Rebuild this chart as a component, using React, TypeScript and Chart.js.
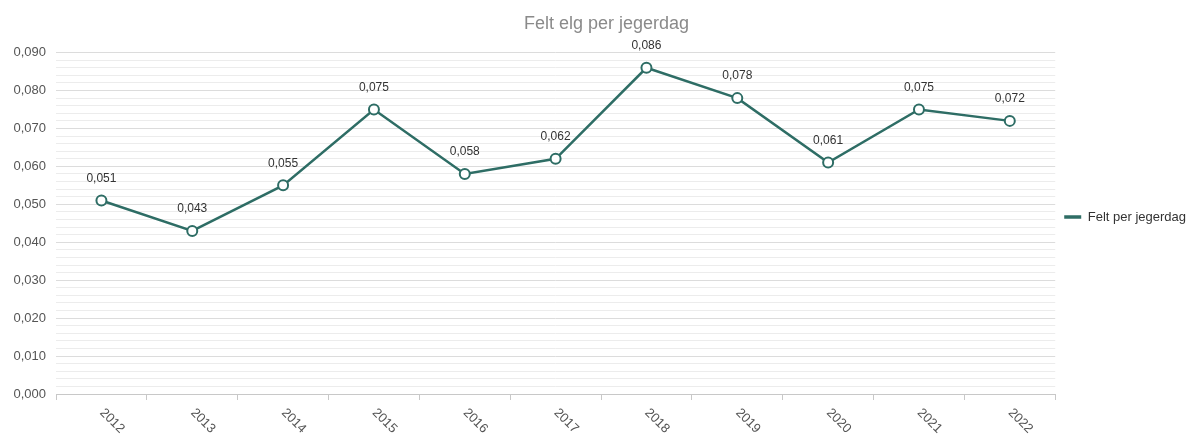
import React, { useEffect, useRef } from "react";
import { Chart, registerables } from "chart.js";

Chart.register(...registerables);

const titleText = "Felt elg per jegerdag";
const seriesName = "Felt per jegerdag";
const years = ["2012", "2013", "2014", "2015", "2016", "2017", "2018", "2019", "2020", "2021", "2022"];
const values = [0.051, 0.043, 0.055, 0.075, 0.058, 0.062, 0.086, 0.078, 0.061, 0.075, 0.072];
const yMin = 0;
const yMax = 0.09;
const minorStep = 0.002;
const majorStep = 0.01;

const lineColor = "#2e6d65";
const fontFamily = "'Liberation Sans', Arial, sans-serif";

const fmt = (v: number) => v.toFixed(3).replace(".", ",");
const isMajor = (v: number) => Math.abs(v / majorStep - Math.round(v / majorStep)) < 1e-6;

const labelPlugin = {
  id: "customLabels",
  afterLayout(chart: any) {
    if (chart.legend) {
      chart.legend.left += 5;
      chart.legend.right += 5;
    }
    if (chart.titleBlock) {
      chart.titleBlock.left += 7;
      chart.titleBlock.right += 7;
    }
  },
  afterDatasetsDraw(chart: any) {
    const ctx = chart.ctx;
    const meta = chart.getDatasetMeta(0);
    ctx.save();
    ctx.font = `12px ${fontFamily}`;
    ctx.fillStyle = "#333";
    ctx.textAlign = "center";
    ctx.textBaseline = "middle";
    meta.data.forEach((pt: any, i: number) => {
      ctx.fillText(fmt(values[i]), pt.x, pt.y - 22);
    });
    // rotated x labels
    const xs = chart.scales.x;
    ctx.font = `13px ${fontFamily}`;
    ctx.fillStyle = "#555";
    ctx.textAlign = "left";
    ctx.textBaseline = "top";
    years.forEach((y, i) => {
      const x = xs.getPixelForValue(i);
      ctx.save();
      ctx.translate(x + 5, xs.top + 12);
      ctx.rotate(Math.PI / 4);
      ctx.fillText(y, 0, 0);
      ctx.restore();
    });
    ctx.restore();
  },
};

export default function App() {
  const ref = useRef<HTMLCanvasElement | null>(null);
  useEffect(() => {
    if (!ref.current) return;
    const chart = new Chart(ref.current, {
      type: "line",
      data: {
        labels: years,
        datasets: [
          {
            label: seriesName,
            data: values,
            borderColor: lineColor,
            backgroundColor: "#ffffff",
            borderWidth: 2.5,
            pointRadius: 5,
            pointBorderWidth: 2,
            pointBackgroundColor: "#ffffff",
            pointBorderColor: lineColor,
            tension: 0,
          },
        ],
      },
      plugins: [labelPlugin],
      options: {
        animation: false,
        responsive: false,
        layout: { padding: { left: 8, right: 0, top: 0, bottom: 0 } },
        plugins: {
          title: {
            display: true,
            text: titleText,
            color: "#8a8a8a",
            font: { family: fontFamily, size: 18, weight: "normal" },
            padding: { top: 13, bottom: 18 },
          },
          legend: {
            position: "right",
            labels: {
              usePointStyle: true,
              pointStyle: "line",
              pointStyleWidth: 17,
              boxWidth: 17,
              boxHeight: 12,
              padding: 4,
              color: "#333",
              font: { family: fontFamily, size: 13 },
              generateLabels: (chart: any) => [
                {
                  text: seriesName,
                  fillStyle: lineColor,
                  strokeStyle: lineColor,
                  lineWidth: 3.5,
                  pointStyle: "line",
                  datasetIndex: 0,
                  hidden: false,
                  fontColor: "#333",
                },
              ],
            },
          },
          tooltip: { enabled: false },
        },
        scales: {
          x: {
            type: "category",
            offset: true,
            grid: {
              offset: true,
              drawOnChartArea: false,
              drawTicks: true,
              tickLength: 6,
              color: "#c8c8c8",
            },
            border: { display: true, color: "#c8c8c8", width: 1 },
            ticks: { display: false },
            afterFit: (scale: any) => {
              scale.height = 40;
            },
          },
          y: {
            min: yMin,
            max: yMax,
            grid: {
              drawTicks: false,
              color: (c: any) => (isMajor(c.tick.value) ? "#dcdcdc" : "#ececec"),
              lineWidth: 1,
            },
            border: { display: false },
            ticks: {
              stepSize: minorStep,
              autoSkip: false,
              padding: 10,
              color: "#555",
              font: { family: fontFamily, size: 13 },
              callback: (v: any) => (isMajor(Number(v)) ? fmt(Number(v)) : ""),
            },
            afterFit: (scale: any) => {
              scale.width = 48;
            },
          },
        },
      },
    } as any);
    return () => chart.destroy();
  }, []);
  return (
    <div style={{ position: "fixed", left: 0, top: 0, width: 1191, height: 434, background: "#fff" }}>
      <canvas ref={ref} width={1191} height={434} style={{ width: 1191, height: 434 }} />
    </div>
  );
}
